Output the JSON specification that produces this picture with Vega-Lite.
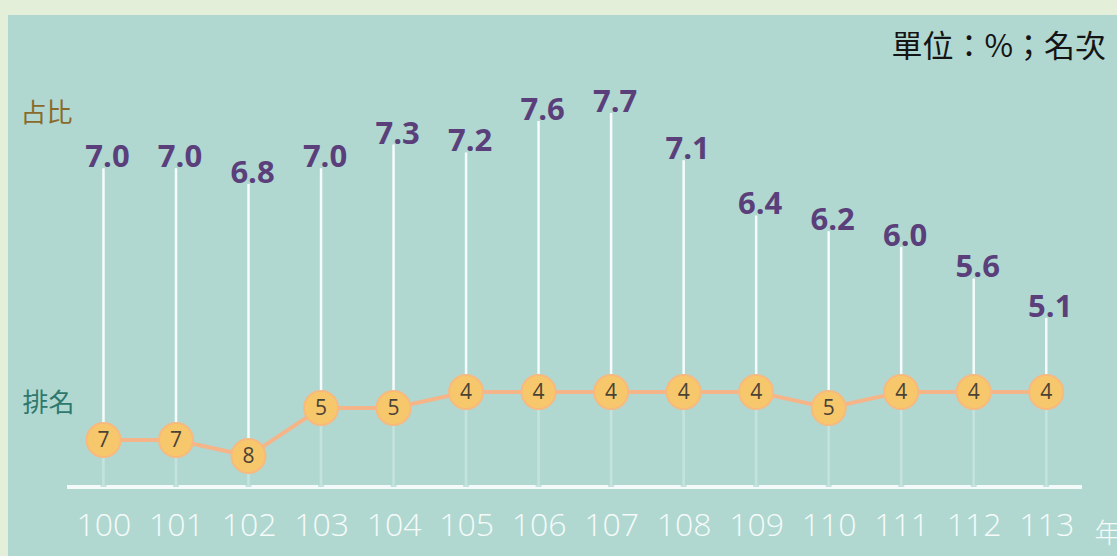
{
  "$schema": "https://vega.github.io/schema/vega-lite/v6.json",
  "autosize": "none",
  "width": 1109,
  "height": 541,
  "padding": {"left": 8, "top": 15, "right": 0, "bottom": 0},
  "background": "#e3efd8",
  "config": {
    "view": {"fill": "#b0d8d1", "stroke": null},
    "axis": {"grid": false}
  },
  "title": {
    "text": "單位：%；名次",
    "anchor": "end",
    "frame": "group",
    "orient": "top",
    "baseline": "alphabetic",
    "offset": -73,
    "dx": -11,
    "font": "Noto Sans CJK TC",
    "fontSize": 31,
    "fontWeight": "normal",
    "color": "#141414"
  },
  "data": {
    "values": [
      {"year": 100, "pct": 7.0, "rank": 7},
      {"year": 101, "pct": 7.0, "rank": 7},
      {"year": 102, "pct": 6.8, "rank": 8},
      {"year": 103, "pct": 7.0, "rank": 5},
      {"year": 104, "pct": 7.3, "rank": 5},
      {"year": 105, "pct": 7.2, "rank": 4},
      {"year": 106, "pct": 7.6, "rank": 4},
      {"year": 107, "pct": 7.7, "rank": 4},
      {"year": 108, "pct": 7.1, "rank": 4},
      {"year": 109, "pct": 6.4, "rank": 4},
      {"year": 110, "pct": 6.2, "rank": 5},
      {"year": 111, "pct": 6.0, "rank": 4},
      {"year": 112, "pct": 5.6, "rank": 4},
      {"year": 113, "pct": 5.1, "rank": 4}
    ]
  },
  "encoding": {
    "x": {
      "field": "year",
      "type": "quantitative",
      "scale": {"domain": [98.7524, 113.9068], "nice": false, "zero": false},
      "axis": {
        "orient": "bottom",
        "offset": -69,
        "values": [100, 101, 102, 103, 104, 105, 106, 107, 108, 109, 110, 111, 112, 113],
        "format": "d",
        "domain": false,
        "ticks": false,
        "tickSize": 0,
        "labelPadding": 48,
        "labelBaseline": "alphabetic",
        "labelFont": "Open Sans",
        "labelFontSize": 32,
        "labelFontWeight": 300,
        "labelColor": "#f6fbfa",
        "labelFlush": false,
        "labelOverlap": false,
        "title": "年",
        "titleX": 1086,
        "titleY": 55,
        "titleAlign": "left",
        "titleBaseline": "alphabetic",
        "titleFont": "Noto Sans CJK TC",
        "titleFontSize": 27,
        "titleFontWeight": 300,
        "titleColor": "#f6fbfa"
      }
    }
  },
  "layer": [
    {
      "encoding": {
        "y": {
          "field": "pct",
          "type": "quantitative",
          "scale": {"domain": [2.0782, 8.9437], "nice": false, "zero": false},
          "axis": {
            "orient": "left",
            "labels": false,
            "ticks": false,
            "domain": false,
            "title": "占比",
            "titleAngle": 0,
            "titleX": 12,
            "titleY": 106,
            "titleAlign": "left",
            "titleBaseline": "alphabetic",
            "titleFont": "Noto Sans CJK TC",
            "titleFontSize": 26,
            "titleFontWeight": "normal",
            "titleColor": "#8a6a2a"
          }
        }
      },
      "layer": [
        {
          "mark": {"type": "rule", "color": "#f6fcfb", "strokeWidth": 2.5},
          "encoding": {"y2": {"datum": 2.954}}
        },
        {
          "mark": {"type": "rule", "color": "#f4faf9", "strokeWidth": 3.5},
          "encoding": {
            "x": {"datum": 99.504},
            "x2": {"datum": 113.483},
            "y": {"datum": 2.954}
          }
        },
        {
          "mark": {
            "type": "text",
            "font": "Open Sans",
            "fontSize": 31,
            "fontWeight": "bold",
            "color": "#5a3f7b",
            "baseline": "alphabetic",
            "align": "center",
            "dx": 4,
            "dy": -1
          },
          "encoding": {"text": {"field": "pct", "type": "quantitative", "format": ".1f"}}
        }
      ]
    },
    {
      "encoding": {
        "y": {
          "field": "rank",
          "type": "quantitative",
          "scale": {"domain": [-19.5625, 14.25], "reverse": true, "nice": false, "zero": false},
          "axis": {
            "orient": "right",
            "labels": false,
            "ticks": false,
            "domain": false,
            "title": "排名",
            "titleAngle": 0,
            "titleX": -1095,
            "titleY": 396,
            "titleAlign": "left",
            "titleBaseline": "alphabetic",
            "titleFont": "Noto Sans CJK TC",
            "titleFontSize": 26,
            "titleFontWeight": "normal",
            "titleColor": "#2e786d"
          }
        }
      },
      "layer": [
        {
          "mark": {"type": "bar", "color": "#b0d8d1", "opacity": 0.7, "width": 6},
          "encoding": {"y2": {"datum": 9.94}}
        },
        {
          "mark": {"type": "line", "color": "#f6b489", "strokeWidth": 4}
        },
        {
          "mark": {"type": "point", "filled": true, "size": 1156, "color": "#f7c86b", "stroke": "#f8b97e", "strokeWidth": 2, "opacity": 1, "strokeOpacity": 1}
        },
        {
          "mark": {
            "type": "text",
            "font": "Open Sans",
            "fontSize": 21,
            "color": "#4b4236",
            "baseline": "middle",
            "align": "center",
            "dy": 1
          },
          "encoding": {"text": {"field": "rank", "type": "quantitative"}}
        }
      ]
    }
  ],
  "resolve": {"scale": {"y": "independent"}, "axis": {"y": "independent"}}
}
